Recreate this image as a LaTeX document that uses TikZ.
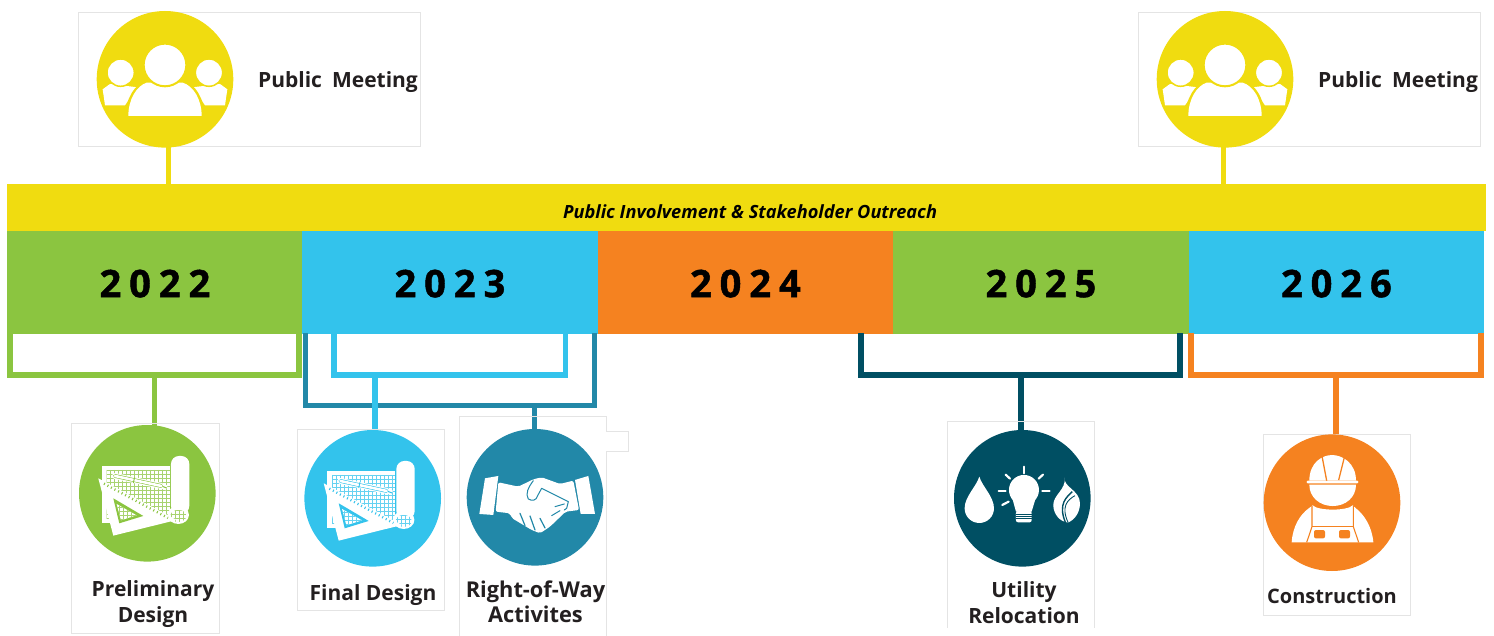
\documentclass[tikz,border=0pt]{standalone}
\usepackage{fontspec}
\setmainfont{Open Sans}
\newfontfamily\yearfont[LetterSpace=21,FakeBold=1.2]{Open Sans Bold}
\usetikzlibrary{backgrounds}
\definecolor{cyellow}{HTML}{F0DC10}
\definecolor{cgreen}{HTML}{8BC540}
\definecolor{cblue}{HTML}{33C3EC}
\definecolor{corange}{HTML}{F58220}
\definecolor{cteal}{HTML}{2288A8}
\definecolor{cdark}{HTML}{004F63}
\definecolor{cink}{HTML}{231F20}
\definecolor{cedge}{HTML}{E4E4E4}
\tikzset{
  card/.style={draw=cedge,line width=.8pt,anchor=north west,inner sep=0pt},
  iconball/.style={circle,inner sep=0pt,minimum size=136.6pt},
  yearbar/.style={anchor=north west,inner sep=0pt,minimum width=295.4pt,minimum height=103pt,font=\yearfont\fontsize{38}{38}\selectfont,text=black,text height=29pt,text depth=0pt},
  lbl/.style={font=\bfseries\fontsize{21}{25.5}\selectfont,text=cink,align=center,inner sep=0pt,anchor=base},
  bracket/.style={line width=5.6pt,miter limit=10},
  stem/.style={line width=5.4pt},
  pics/people/.style={code={
    \begin{scope}[x=1pt/3,y=-1pt/3]
      \fill[white] (-187,30) -- (-165,14) -- (-83,24) -- (-120,78) -- (-180,78) -- cycle;
      \fill[white] (187,30) -- (165,14) -- (83,24) -- (120,78) -- (180,78) -- cycle;
      \draw[cyellow,line width=2.5pt] (-115,112) .. controls (-115,60) and (-88,18) .. (-55,6);
      \draw[cyellow,line width=2.5pt] (115,112) .. controls (115,60) and (88,18) .. (55,6);
      \fill[white] (-110,110) .. controls (-110,60) and (-85,20) .. (-55,10) -- (53,10) .. controls (85,20) and (110,60) .. (110,110) -- cycle;
      \fill[white,draw=cyellow,line width=2pt] (0,-43) circle[radius=64];
      \fill[white,draw=cyellow,line width=1.5pt] (-133,-20) circle[radius=41];
      \fill[white,draw=cyellow,line width=1.5pt] (132,-20) circle[radius=41];
    \end{scope}}},
  pics/plan/.style={code={
    \begin{scope}[x=1pt/3,y=-1pt/3]
      \fill[white] (-137,-83) rectangle (68,75);
      \fill[white] (-137,30) rectangle (-105,90);
      \begin{scope}
        \clip (-122,-70) rectangle (68,78);
        \foreach \g in {-122,-110,...,70} {\draw[#1!75!white,line width=.5pt] (\g,-70) -- (\g,78);}
        \foreach \g in {-70,-58,...,78} {\draw[#1!75!white,line width=.5pt] (-122,\g) -- (68,\g);}
      \end{scope}
      \fill[white,rounded corners=8pt] (71,-112) rectangle (126,62);
      \fill[white] (93,65) ellipse[x radius=32,y radius=27];
      \begin{scope}
        \clip (93,68) ellipse[x radius=24,y radius=18];
        \foreach \g in {60,72,...,120} {\draw[#1!75!white,line width=.4pt] (\g,45) -- (\g,90);}
        \foreach \g in {50,62,...,90} {\draw[#1!75!white,line width=.4pt] (60,\g) -- (120,\g);}
      \end{scope}
      \fill[white] (-147,-45) -- (88,80) -- (-102,127) -- cycle;
      \draw[#1,line width=2.4pt,dash pattern=on 1pt off 3pt] (-130,-29) -- (62,74);
      \fill[#1] (-102,15) -- (-12,68) -- (-84,90) -- cycle;
      \fill[white] (-92,32) -- (-32,66) -- (-79,81) -- cycle;
      \begin{scope}
        \clip (-92,32) -- (-32,66) -- (-79,81) -- cycle;
        \foreach \g in {-96,-84,...,-30} {\draw[#1!75!white,line width=.5pt] (\g,30) -- (\g,85);}
        \foreach \g in {30,42,...,85} {\draw[#1!75!white,line width=.5pt] (-96,\g) -- (-30,\g);}
      \end{scope}
      \draw[white,line width=6pt,line cap=round] (-97,-52) -- (42,-22);
      \draw[white,line width=5pt] (42,-22) -- (58,-16);
      \draw[#1,line width=3.8pt,line cap=round] (-97,-52) -- (42,-22);
      \draw[#1,line width=1pt] (42,-22) -- (58,-16);
      \draw[white,line width=2.6pt,line cap=round] (-97,-52) -- (42,-22);
      \draw[#1,line width=.9pt] (-38,-48) -- (-42,-31);
    \end{scope}}},
  pics/shake/.style={code={
    \begin{scope}[x=1pt/3,y=-1pt/3]
      \fill[white] (-167,50) -- (-150,-57) -- (-110,-64) -- (-125,53) -- cycle;
      \fill[white] (120,-52) -- (160,-64) -- (180,50) -- (137,50) -- cycle;
      \fill[white,rounded corners=2pt] (-110,-45) -- (-50,-32) -- (-5,-54) -- (20,-60) -- (75,-40) -- (115,-50) -- (132,38) -- (92,43) -- (45,88) -- (15,108) -- (-10,98) -- (-70,62) -- (-75,48) -- (-118,43) -- cycle;
      \draw[cteal,line width=1pt,line cap=round,line join=round] (-5,-50) .. controls (-20,-30) and (-30,-10) .. (-20,5) .. controls (-10,12) and (5,10) .. (8,-5) -- (20,-27) -- (100,13) -- (95,33) -- (88,38);
      \draw[cteal,line width=1pt,line cap=round] (60,28) -- (88,20);
      \draw[cteal,line width=1pt,line cap=round] (50,55) -- (75,40);
      \draw[cteal,line width=1.2pt,line cap=round] (-45,48) -- (-30,85);
      \draw[cteal,line width=1.2pt,line cap=round] (-15,56) -- (0,98);
      \draw[cteal,line width=1.2pt,line cap=round] (15,63) -- (30,92);
    \end{scope}}},
  pics/utility/.style={code={
    \begin{scope}[x=1pt/3,y=-1pt/3]
      \fill[white] (-129,-65) .. controls (-120,-35) and (-85,-5) .. (-85,30) .. controls (-85,55) and (-105,74) .. (-129,74) .. controls (-153,74) and (-173,55) .. (-173,30) .. controls (-173,-5) and (-138,-35) .. cycle;
      \fill[white] (5,-25) circle[radius=45];
      \fill[white] (-30,0) -- (-19,40) -- (28,40) -- (40,0) -- cycle;
      \fill[white,rounded corners=2pt] (-19,38) rectangle (28,72);
      \foreach \s in {47,54,61} {\draw[cdark,line width=.7pt] (-19,\s) -- (28,\s);}
      \draw[white,line width=2.2pt,line cap=round] (5,-95) -- (5,-75);
      \draw[white,line width=2.2pt,line cap=round] (-50,-71) -- (-37,-59);
      \draw[white,line width=2.2pt,line cap=round] (62,-71) -- (49,-59);
      \draw[white,line width=2.2pt,line cap=round] (-71,-23) -- (-50,-23);
      \draw[white,line width=2.2pt,line cap=round] (60,-23) -- (82,-23);
      \draw[white,line width=2.2pt,line cap=round] (-60,20) -- (-41,10);
      \fill[white] (128,-62) .. controls (120,-35) and (173,-25) .. (173,15) .. controls (173,45) and (155,65) .. (138,73) .. controls (110,70) and (93,45) .. (93,20) .. controls (93,-10) and (130,-25) .. (128,-62);
      \draw[cdark,line width=1.4pt] (150,-20) .. controls (135,-5) and (105,15) .. (130,74);
      \draw[cdark,line width=.9pt] (158,-8) .. controls (135,5) and (115,25) .. (138,74);
    \end{scope}}},
  pics/worker/.style={code={
    \begin{scope}[x=1pt/3,y=-1pt/3]
      \fill[white] (-68,-66) .. controls (-68,-120) and (-30,-143) .. (0,-143) .. controls (30,-143) and (72,-120) .. (72,-66) -- cycle;
      \fill[white,rounded corners=1pt] (-76,-66) rectangle (79,-58);
      \draw[corange,line width=1.3pt] (-30,-140) -- (-16,-66);
      \draw[corange,line width=1.3pt] (38,-140) -- (20,-68);
      \fill[white] (-68,-54) -- (72,-54) .. controls (72,-15) and (40,10) .. (2,10) .. controls (-35,10) and (-68,-15) .. (-68,-54) -- cycle;
      \fill[white] (-121,119) .. controls (-118,70) and (-95,35) .. (-70,17) -- (-58,8) .. controls (-40,25) and (45,25) .. (62,8) -- (72,17) .. controls (95,35) and (120,70) .. (124,119) -- cycle;
      \draw[corange,line width=1.1pt] (-60,10) -- (-60,72) -- (-76,119);
      \draw[corange,line width=1.1pt] (64,10) -- (64,72) -- (80,119);
      \draw[corange,line width=1.1pt] (-60,72) -- (64,72);
      \fill[corange,rounded corners=2pt] (-54,82) rectangle (-21,107);
      \fill[corange,rounded corners=2pt] (21,82) rectangle (54,107);
    \end{scope}}}
}
\begin{document}
\begin{tikzpicture}[x=1pt,y=-1pt]
\useasboundingbox (0,0) rectangle (1494,636);

% cards
\node[card,minimum width=342pt,minimum height=134pt] (cardA) at (78,12) {};
\node[card,minimum width=342pt,minimum height=134pt] (cardB) at (1138,12) {};
\node[card,minimum width=148pt,minimum height=210pt] (cardC) at (71,423) {};
\node[card,minimum width=147pt,minimum height=181pt] (cardD) at (297,429) {};
\node[card,minimum width=147pt,minimum height=181pt] (cardH) at (1263,434) {};
\draw[cedge,line width=.8pt] (459,636) -- (459,416) -- (606,416) -- (606,431) -- (628,431) -- (628,451) -- (606,451) -- (606,636);
\draw[cedge,line width=.8pt] (947,628) -- (947,421) -- (1094,421) -- (1094,628);

% band and years
\node[fill=cyellow,anchor=north west,inner sep=0pt,minimum width=1479pt,minimum height=47pt] (band) at (7,184) {};
\node[font=\bfseries\itshape\fontsize{18.2}{18}\selectfont,text=black,inner sep=0pt] (bandtext) at (750,212) {Public Involvement \& Stakeholder Outreach};
\node[yearbar,fill=cgreen] (y22) at (7,231) {2022};
\node[yearbar,fill=cblue] (y23) at (302,231) {2023};
\node[yearbar,fill=corange] (y24) at (597.5,231) {2024};
\node[yearbar,fill=cgreen] (y25) at (893,231) {2025};
\node[yearbar,fill=cblue] (y26) at (1188.5,231) {2026};

% icons
\node[iconball,fill=cyellow] (meetA) at (165,79.3) {};
\pic at (meetA.center) {people};
\node[iconball,fill=cyellow] (meetB) at (1225,79.3) {};
\pic at (meetB.center) {people};
\node[iconball,fill=cgreen] (prelim) at (147.3,493.3) {};
\pic at (prelim.center) {plan=cgreen};
\node[iconball,fill=cblue] (final) at (372.7,498.3) {};
\pic at (final.center) {plan=cblue};
\node[iconball,fill=cteal] (row) at (535,497.3) {};
\pic at (row.center) {shake};
\node[iconball,fill=cdark] (util) at (1022.3,498.3) {};
\pic at (util.center) {utility};
\node[iconball,fill=corange] (constr) at (1332,502.7) {};
\pic at (constr.center) {worker};

% labels
\node[lbl] (lA) at (338,88) {Public\hspace{.22em} Meeting};
\node[lbl] (lB) at (1398,88) {Public\hspace{.22em} Meeting};
\node[lbl] (lC) at (153,622) {Preliminary\\Design};
\node[lbl] (lD) at (373,600) {Final Design};
\node[lbl,font=\bfseries\fontsize{21.8}{25.5}\selectfont] (lE) at (535.5,622.7) {Right-of-Way\\Activites};
\node[lbl] (lF) at (1024,623) {Utility\\Relocation};
\node[lbl,font=\bfseries\fontsize{20}{25.5}\selectfont] (lG) at (1332,603) {Construction};

% brackets and stems
\coordinate (sA) at (168.3,146);
\coordinate (sB) at (1223.7,146);
\coordinate (bG) at (154.6,375);
\coordinate (bB) at (375,375);
\coordinate (bT) at (534.5,405.5);
\coordinate (bD) at (1021,375);
\coordinate (bO) at (1336,375);
\begin{scope}[on background layer]
  \draw[stem,cyellow] (sA) -- (sA |- band.north);
  \draw[stem,cyellow] (sB) -- (sB |- band.north);
  \draw[stem,cteal] (bT) -- (bT |- row);
  \draw[stem,cblue] (bB) -- (bB |- final);
  \draw[stem,cgreen] (bG) -- (bG |- prelim);
  \draw[stem,cdark,line width=6pt] (bD) -- (bD |- util);
  \draw[stem,corange,line width=6pt] (bO) -- (bO |- constr);
\end{scope}
\draw[bracket,cteal] (305.3,333) -- (305.3,405.5) -- (bT) -- (594.3,405.5) -- (594.3,333);
\draw[bracket,cgreen] (9.8,333) -- (9.8,375) -- (bG) -- (299.2,375) -- (299.2,333);
\draw[bracket,cblue] (334,333) -- (334,375) -- (bB) -- (565.3,375) -- (565.3,333);
\draw[bracket,cdark] (861,333) -- (861,375) -- (bD) -- (1180,375) -- (1180,333);
\draw[bracket,corange] (1191,333) -- (1191,375) -- (bO) -- (1481,375) -- (1481,333);
\draw[stem,cblue] (bB) -- (375,412);
\end{tikzpicture}
\end{document}
